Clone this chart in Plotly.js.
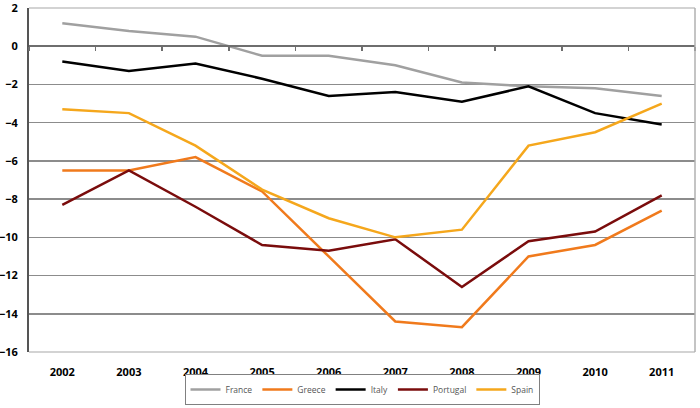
<!DOCTYPE html>
<html>
<head>
<meta charset="utf-8">
<script src="https://cdn.plot.ly/plotly-3.0.1.min.js"></script>
<style>html,body{margin:0;padding:0;background:#fff}#chart{width:700px;height:408px}</style>
</head>
<body>
<div id="chart"></div>
<script>
const years = [2002, 2003, 2004, 2005, 2006, 2007, 2008, 2009, 2010, 2011];
const france   = [1.2, 0.8, 0.5, -0.5, -0.5, -1.0, -1.9, -2.1, -2.2, -2.6];
const greece   = [-6.5, -6.5, -5.8, -7.6, -11.0, -14.4, -14.7, -11.0, -10.4, -8.6];
const italy    = [-0.8, -1.3, -0.9, -1.7, -2.6, -2.4, -2.9, -2.1, -3.5, -4.1];
const portugal = [-8.3, -6.5, -8.4, -10.4, -10.7, -10.1, -12.6, -10.2, -9.7, -7.8];
const spain    = [-3.3, -3.5, -5.2, -7.5, -9.0, -10.0, -9.6, -5.2, -4.5, -3.0];
const yTicks = [2, 0, -2, -4, -6, -8, -10, -12, -14, -16];

const series = [
  {name: 'France', y: france, color: '#a0a0a0'},
  {name: 'Greece', y: greece, color: '#f07a1c'},
  {name: 'Italy', y: italy, color: '#000000'},
  {name: 'Portugal', y: portugal, color: '#7a0c0c'},
  {name: 'Spain', y: spain, color: '#f5a71c'}
];

const traces = series.map(s => ({
  type: 'scatter', mode: 'lines', name: s.name, x: years, y: s.y,
  line: {color: s.color, width: 2.5}
}));
traces.push({type: 'scatter', mode: 'lines', x: [], y: [], xaxis: 'x2', showlegend: false, hoverinfo: 'skip'});

const layout = {
  width: 700, height: 408,
  margin: {l: 29, r: 5, t: 8, b: 56, autoexpand: false},
  paper_bgcolor: '#fff', plot_bgcolor: '#fff',
  font: {family: 'Open Sans, sans-serif', color: '#000'},
  showlegend: true,
  legend: {
    orientation: 'h', x: 0.5, xanchor: 'center', y: -0.154, yanchor: 'bottom',
    bordercolor: '#808080', borderwidth: 1,
    font: {size: 8.5, color: '#555'}, itemwidth: 30, traceorder: 'normal',
    tracegroupgap: 0
  },
  xaxis: {
    type: 'linear', range: [2001.5, 2011.5], tickmode: 'array', tickvals: years,
    ticktext: years.map(String),
    showgrid: false, zeroline: false, showline: false,
    ticks: '', ticklabelstandoff: 12,
    tickfont: {size: 11, color: '#000', family: 'Open Sans, sans-serif', weight: 'bold'}
  },
  xaxis2: {
    type: 'linear', range: [2001.5, 2011.5], overlaying: 'x', anchor: 'free',
    position: 16 / 18, side: 'bottom',
    tick0: 2001.5, dtick: 1, ticks: 'outside', ticklen: 4, tickwidth: 1.5, tickcolor: '#6e6e6e',
    showline: true, linecolor: '#6e6e6e', linewidth: 2,
    showticklabels: false, showgrid: false, zeroline: false
  },
  yaxis: {
    range: [-16, 2], tickmode: 'array', tickvals: yTicks,
    showgrid: true, gridcolor: '#8c8c8c', gridwidth: 1.5,
    zeroline: false, automargin: false,
    showline: true, linecolor: '#555', linewidth: 2,
    ticks: '', ticklabelstandoff: 7, ticklabeloverflow: 'allow',
    tickfont: {size: 11, color: '#000', family: 'Open Sans, sans-serif', weight: 'bold'}
  },
  shapes: [
    {type: 'line', xref: 'paper', yref: 'paper', x0: 0, x1: 1, y0: 1, y1: 1, line: {color: '#c4c4c4', width: 1.5}, layer: 'above'},
    {type: 'line', xref: 'paper', yref: 'paper', x0: 0, x1: 1, y0: 0, y1: 0, line: {color: '#c4c4c4', width: 1.5}, layer: 'above'},
    {type: 'line', xref: 'paper', yref: 'paper', x0: 1, x1: 1, y0: 0, y1: 1, line: {color: '#b0b0b0', width: 1.5}, layer: 'above'}
  ]
};

Plotly.newPlot('chart', traces, layout, {displayModeBar: false, staticPlot: true});
</script>
</body>
</html>
